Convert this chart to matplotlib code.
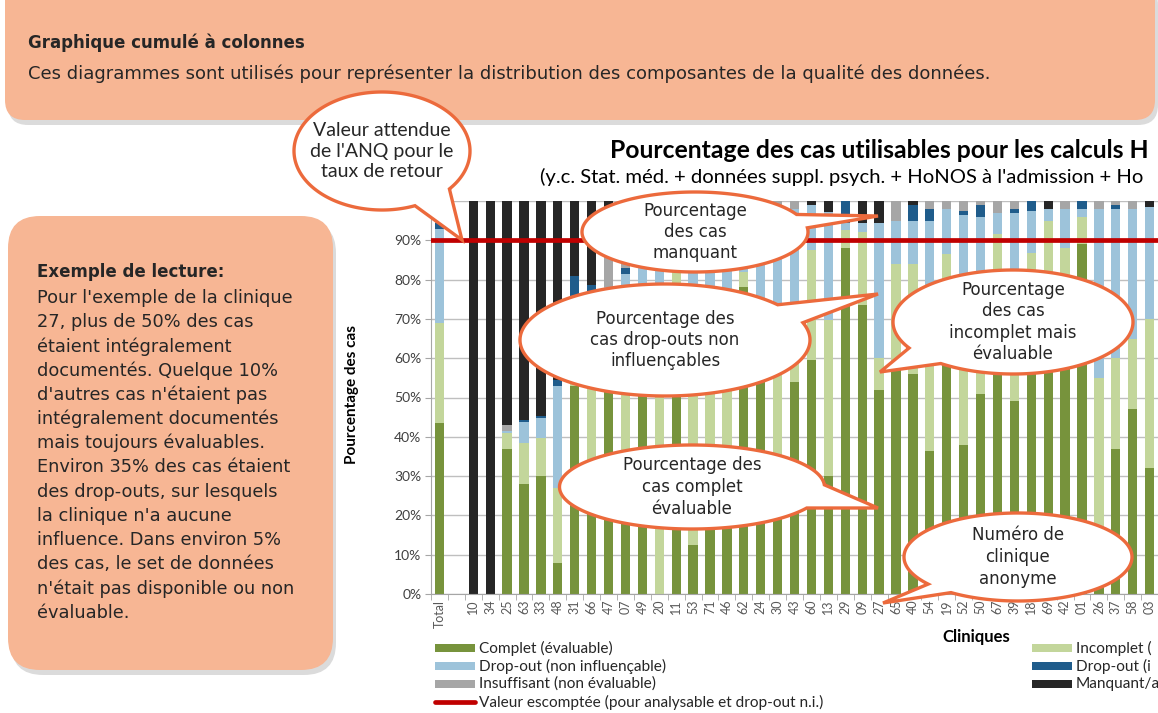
import numpy as np
import matplotlib as mpl
import matplotlib.pyplot as plt
import matplotlib.patches as mpatches

W, H = 1158, 713

# ---- data (percent of cases per clinic, stacked bottom -> top) ----
clinics = ["Total", "", "10", "34", "25", "63", "33", "48", "31", "66", "47",
           "07", "49", "20", "11", "53", "71", "46", "62", "24", "30", "43",
           "60", "13", "29", "09", "27", "65", "40", "54", "19", "52", "50",
           "67", "39", "18", "69", "42", "01", "26", "37", "58", "03"]
complete = [43.5, 0, 0, 0, 37, 28, 30, 8, 53, 30, 55,
            25, 55, 0, 78, 12.5, 28, 32, 78, 58, 28, 54,
            59.5, 30, 88, 73.5, 52, 58, 56, 36.5, 60, 38, 51,
            62, 49, 60, 65, 62, 89, 15, 37, 47, 32]
incomplete = [25.5, 0, 0, 0, 4, 10.3, 9.8, 19, 5, 30, 10,
              35, 7, 60, 4, 47.5, 30, 30, 4, 7, 32, 16,
              28, 39.7, 4.5, 18.5, 8, 26, 28, 38.5, 26.5, 32, 14,
              29.5, 16, 26.7, 30, 26, 7, 40, 23, 18, 38]
dropout_ni = [24, 0, 0, 0, 0.5, 5.5, 5.1, 26, 17, 17, 13,
              21.5, 30, 35, 13, 35, 37, 33, 14, 31, 38, 28,
              11.5, 27.6, 2, 2.3, 34.3, 11, 11, 20, 11.5, 26.5, 31,
              5.5, 32, 10.8, 3, 10, 2, 43, 38, 33, 28.5]
dropout_i = [1.5, 0, 0, 0, 0, 0.5, 0.5, 1.5, 6, 1.5, 0,
             1.5, 2, 2, 2, 2, 2, 2, 2, 2, 0, 0,
             0, 0, 5.5, 0, 0, 0, 4, 3, 0, 1, 3,
             0, 1, 2.5, 0, 0, 2, 0, 1, 0, 0]
insufficient = [2.5, 0, 0, 0, 1.5, 0, 0, 0, 0, 0, 10,
                7, 3, 2, 2, 2, 2, 2, 1, 1, 2, 2,
                0, 0, 0, 0, 0, 5, 0, 2, 2, 2.5, 1,
                3, 2, 0, 0, 2, 0, 2, 1, 2, 0]
missing = [3, 0, 100, 100, 57, 55.7, 54.6, 45.5, 19, 21.5, 12,
           10, 3, 1, 1, 1, 1, 1, 1, 1, 0, 0,
           1, 2.7, 0, 5.7, 5.7, 0, 1, 0, 0, 0, 0,
           0, 0, 0, 2, 0, 0, 0, 0, 0, 1.5]
target = 90

# legend names as far as they show before the picture's right edge
series = [
    ("Complet (évaluable)", complete, "#77933C"),
    ("Incomplet (", incomplete, "#C3D69B"),
    ("Drop-out (non influençable)", dropout_ni, "#9DC3DA"),
    ("Drop-out (i", dropout_i, "#1F5C8B"),
    ("Insuffisant (non évaluable)", insufficient, "#A6A6A6"),
    ("Manquant/a", missing, "#262626"),
]

SALMON = "#F7B694"
ORANGE = "#EC6A3C"
TXT = "#262626"
BOXFONT = "DejaVu Sans"
CHARTFONT = "Lato"

fig = plt.figure(figsize=(W / 100, H / 100), dpi=100)
fig.patch.set_facecolor("white")

# background layer in pixel coordinates
bg = fig.add_axes([0, 0, 1, 1], zorder=0)
bg.set_xlim(0, W)
bg.set_ylim(H, 0)
bg.set_axis_off()


def rbox(a, x, y, w, h, r):
    a.add_patch(mpatches.FancyBboxPatch(
        (x + 3, y + 5), w, h, boxstyle=f"round,pad=0,rounding_size={r}",
        lw=0, fc="#9a9a9a", alpha=0.35, zorder=1))
    a.add_patch(mpatches.FancyBboxPatch(
        (x, y), w, h, boxstyle=f"round,pad=0,rounding_size={r}",
        lw=0, fc=SALMON, zorder=2))


rbox(bg, 5, -20, 1150, 140, 20)
rbox(bg, 8, 216, 325, 454, 32)

bg.text(28, 43, "Graphique cumulé à colonnes", fontsize=12, fontweight="bold",
        family=BOXFONT, color=TXT, va="center", zorder=3)
bg.text(28, 74, "Ces diagrammes sont utilisés pour représenter la distribution "
        "des composantes de la qualité des données.", fontsize=13,
        family=BOXFONT, color=TXT, va="center", zorder=3)

reading = ["Pour l'exemple de la clinique", "27, plus de 50% des cas",
           "étaient intégralement", "documentés. Quelque 10%",
           "d'autres cas n'étaient pas", "intégralement documentés",
           "mais toujours évaluables.", "Environ 35% des cas étaient",
           "des drop-outs, sur lesquels", "la clinique n'a aucune",
           "influence. Dans environ 5%", "des cas, le set de données",
           "n'était pas disponible ou non", "évaluable."]
bg.text(37, 272, "Exemple de lecture:", fontsize=12, fontweight="bold",
        family=BOXFONT, color=TXT, va="center", zorder=3)
for i, line in enumerate(reading):
    bg.text(37, 298 + i * 24.2, line, fontsize=12.8, family=BOXFONT,
            color=TXT, va="center", zorder=3)

# ---- chart ----
x0, x1 = 431, 1175
ax = fig.add_axes([x0 / W, (H - 594) / H, (x1 - x0) / W, (594 - 201) / H],
                  zorder=1)
ax.set_facecolor("none")
xs = np.arange(len(clinics))
bottom = np.zeros(len(clinics))
for name, vals, col in series:
    vals = np.array(vals, dtype=float)
    ax.bar(xs, vals, 0.55, bottom=bottom, color=col, lw=0, zorder=2)
    bottom += vals
ax.axhline(target, color="#C00000", lw=3.4, zorder=3)

ax.set_xlim(-0.5, 43.5)
ax.set_ylim(0, 100)
ax.set_yticks(range(0, 101, 10))
ax.set_yticklabels([f"{v}%" for v in range(0, 101, 10)])
ax.set_xticks(xs)
ax.set_xticklabels(clinics, rotation=90)
ax.set_xticks(np.arange(-0.5, 44), minor=True)
ax.yaxis.grid(True, color="#BFBFBF", lw=1)
ax.set_axisbelow(True)
for s in ("top", "right"):
    ax.spines[s].set_visible(False)
for s in ("left", "bottom"):
    ax.spines[s].set_color("#A6A6A6")
ax.tick_params(axis="y", length=4, color="#A6A6A6", labelsize=10,
               labelcolor="#404040", pad=3)
ax.tick_params(axis="x", which="major", length=0, labelsize=9,
               labelcolor="#595959", pad=4)
ax.tick_params(axis="x", which="minor", length=4, color="#A6A6A6")
for lab in ax.get_xticklabels() + ax.get_yticklabels():
    lab.set_family(CHARTFONT)

# ---- overlay: titles, legend, callouts ----
ov = fig.add_axes([0, 0, 1, 1], zorder=3)
ov.set_xlim(0, W)
ov.set_ylim(H, 0)
ov.set_axis_off()
ov.patch.set_alpha(0)

ov.text(610, 151, "Pourcentage des cas utilisables pour les calculs H",
        fontsize=17.8, fontweight="bold", family=CHARTFONT, color="black",
        va="center")
ov.text(540, 177, "(y.c. Stat. méd. + données suppl. psych. + HoNOS à "
        "l'admission + Ho", fontsize=14.6, family=CHARTFONT, color="black",
        va="center")
ov.text(352, 395, "Pourcentage des cas", rotation=90, fontsize=11,
        fontweight="bold", family=CHARTFONT, color="black",
        ha="center", va="center")
ov.text(976, 637, "Cliniques", fontsize=12, fontweight="bold",
        family=CHARTFONT, color="black", ha="center", va="center")

leg = [(435, 648, 0), (435, 666, 2), (435, 684, 4), (1032, 648, 1),
       (1032, 666, 3), (1032, 684, 5)]
for lx, ly, k in leg:
    name, _, col = series[k]
    ov.add_patch(mpatches.Rectangle((lx, ly - 4), 40, 8, fc=col, lw=0))
    ov.text(lx + 44, ly, name, fontsize=11.1, family=CHARTFONT,
            color="#262626", va="center")
ov.plot([435, 475], [702, 702], color="#C00000", lw=3.4,
        solid_capstyle="round")
ov.text(479, 702, "Valeur escomptée (pour analysable et drop-out n.i.)",
        fontsize=11.1, family=CHARTFONT, color="#262626", va="center")


def callout(cx, cy, w, h, tip, t1, t2, text, font=BOXFONT, size=12):
    t = np.radians(np.linspace(t2, t1 + 360, 240))
    pts = np.column_stack([cx + w / 2 * np.cos(t), cy + h / 2 * np.sin(t)])
    pts = np.vstack([pts, tip])
    ov.add_patch(mpatches.Polygon(pts, closed=True, fc="white", ec=ORANGE,
                                  lw=2.4, joinstyle="miter"))
    ov.text(cx, cy, text, fontsize=size, family=font, color=TXT,
            ha="center", va="center", linespacing=1.25)


callout(382, 151, 176, 118, (462, 240), 40, 68,
        "Valeur attendue\nde l'ANQ pour le\ntaux de retour",
        font=CHARTFONT, size=14)
callout(695, 232, 226, 80, (878, 216), -26, -6,
        "Pourcentage\ndes cas\nmanquant")
callout(665, 340, 290, 112, (878, 294), -39, -18,
        "Pourcentage des\ncas drop-outs non\ninfluençables")
callout(692, 487, 265, 84, (878, 508), -3, 30,
        "Pourcentage des\ncas complet\névaluable")
callout(1013, 322, 240, 104, (880, 372), 127, 150,
        "Pourcentage\ndes cas\nincomplet mais\névaluable")
callout(1018, 557, 228, 88, (883, 603), 126, 142,
        "Numéro de\nclinique\nanonyme")

fig.savefig("out.png", dpi=100)
